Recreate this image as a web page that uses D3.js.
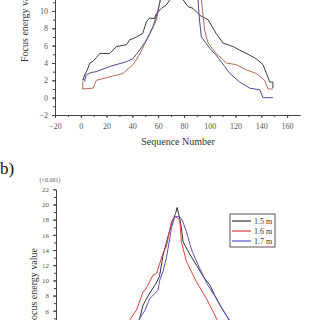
<!DOCTYPE html>
<html>
<head>
<meta charset="utf-8">
<script src="https://cdn.jsdelivr.net/npm/d3@7"></script>
<style>
  body { margin: 0; background: #fff; }
  svg { display: block; font-family: "Liberation Serif", "DejaVu Serif", serif; }
</style>
</head>
<body>
<script>
// top chart (a): three curves, x = sequence number
const topBlack = [
  [1.5, 2.0], [3, 2.6], [5, 3.2], [7, 4.0], [9.5, 4.2], [12, 4.6], [14.7, 5.1], [22.5, 5.1],
  [27.7, 5.9], [35.4, 6.1], [38, 6.7], [40.5, 6.8], [43, 7.0], [48, 7.4], [51, 8.8], [53.5, 9.2],
  [57, 9.1], [58.7, 9.7], [62.5, 10.3], [66.4, 10.7], [69, 11.3], [72, 13], [75, 14.5],
  [77, 13], [79.3, 11.3], [83.2, 10.5], [87, 10.3], [91, 9.7], [92.2, 9.5], [98.7, 9.0],
  [105, 7.4], [110.3, 6.3], [118, 5.9], [123, 5.5], [131, 4.9], [136, 4.5], [141.3, 3.8],
  [144, 2.8], [146.5, 1.8], [149, 1.8], [149, 1.1]
]
const topRed = [
  [1.5, 1.9], [1.5, 1.0], [9.5, 1.1], [12, 2.0], [22.5, 2.4], [32.8, 2.8], [40.5, 3.8],
  [43, 4.35], [47, 5.4], [51, 6.65], [55, 7.8], [58.7, 9.0], [61, 10.8], [64, 13], [70, 16],
  [75, 17], [82, 16], [90, 13.5], [93.5, 11.3], [96, 7.8], [98.7, 6.3], [105, 5.1],
  [113, 4.0], [120.7, 3.8], [128.4, 3.2], [136, 2.8], [142.6, 2.0], [145.2, 1.0], [149, 1.0]
]
const topBlue = [
  [2, 2.2], [3, 1.9], [4, 2.6], [8, 2.9], [12, 3.0], [22.5, 3.6], [35.4, 4.15], [40.5, 4.5],
  [45.7, 5.5], [51, 6.65], [53.5, 7.4], [56, 8.2], [58.7, 9.4], [61, 10.8], [64, 13],
  [70, 16], [75, 17], [82, 16], [89, 13], [91, 11.3], [91.7, 9.5], [93.5, 7.0], [100, 5.7],
  [105, 4.9], [111.6, 3.6], [115.5, 2.8], [123.3, 1.8], [131, 1.1], [138.8, 0.9],
  [141.3, 0.0], [149, 0.0]
]

// bottom chart (b): focus energy (x0.001) for three distances
const botNames = ['1.5 m', '1.6 m', '1.7 m']
const botColors = ['#333333', '#e04040', '#5555cc']
const bot15 = [
  [42, 3], [45.7, 5.0], [48.3, 6.75], [53, 8.2], [58, 9.5], [61, 10.5], [63.8, 13.3],
  [68, 16], [71, 17.8], [73.5, 18.8], [74.7, 19.6], [76, 18.7], [78, 17], [79.3, 15.1],
  [84, 13.6], [89.7, 12.0], [95, 10.5], [100, 9.4], [104, 8], [107.8, 6.75], [112.9, 5.4],
  [117, 4.2], [120, 3.2]
]
const bot16 = [
  [33, 3], [38, 4.8], [43.2, 6.1], [48.3, 8.5], [50, 8.7], [56, 10.7], [58.7, 10.9],
  [63.8, 13.6], [66.4, 14.5], [70.3, 17.7], [72.9, 18.4], [75, 18.2], [76.7, 18],
  [78, 15.1], [81.9, 12.5], [89.7, 9.8], [97.4, 7.6], [102.6, 5.9], [105.2, 5.0], [108, 3.8]
]
const bot17 = [
  [42, 3], [45.7, 5.0], [49.6, 6], [53.5, 7.6], [59.9, 8.7], [61.2, 10], [63.8, 11.2],
  [66.4, 13], [69, 15.5], [70.3, 16.9], [72.9, 18.4], [76.7, 18.4], [79, 17.8], [81.9, 16.4],
  [86, 14], [92.2, 11.6], [98, 9.5], [105.2, 7.6], [111.6, 5.7], [116, 4.6], [120, 3.5]
]

const xTicks = [-20, 0, 20, 40, 60, 80, 100, 120, 140, 160]
const yTopTicks = [-2, 0, 2, 4, 6, 8, 10, 12]
const yBotTicks = [0, 2, 4, 6, 8, 10, 12, 14, 16, 18, 20, 22]

const svg = d3.select('body').append('svg')
  .attr('width', 320)
  .attr('height', 320)

const x = d3.scaleLinear().domain([-20, 170]).range([55, 300])
const yTop = d3.scaleLinear().domain([-2, 14]).range([115, -23.7])
const yBot = d3.scaleLinear().domain([0, 22]).range([356.3, 189.3])

const line = function (yScale) {
  return d3.line().x(d => x(d[0])).y(d => yScale(d[1]))
}

const styleAxis = function (g) {
  g.selectAll('path, line').attr('stroke', '#444').attr('stroke-width', 1)
  g.selectAll('text').attr('fill', '#555').attr('font-size', '8px')
    .attr('font-family', '"Liberation Serif", serif')
}

// ---- top chart ----
const gTop = svg.append('g')

// minor ticks
gTop.append('g').attr('transform', 'translate(0,115)')
  .call(d3.axisBottom(x).tickValues(d3.range(-20, 170, 10)).tickSize(2).tickFormat('').tickSizeOuter(0))
  .call(styleAxis)
gTop.append('g').attr('transform', 'translate(0,115)')
  .call(d3.axisBottom(x).tickValues(xTicks).tickSize(3).tickSizeOuter(0).tickPadding(5))
  .call(styleAxis)
gTop.append('g').attr('transform', 'translate(55,0)')
  .call(d3.axisLeft(yTop).tickValues(d3.range(-2, 14, 1)).tickSize(2).tickFormat('').tickSizeOuter(0))
  .call(styleAxis)
gTop.append('g').attr('transform', 'translate(55,0)')
  .call(d3.axisLeft(yTop).tickValues(yTopTicks).tickSize(3).tickSizeOuter(0).tickPadding(4))
  .call(styleAxis)

gTop.append('text')
  .attr('x', 178).attr('y', 145)
  .attr('text-anchor', 'middle')
  .attr('font-size', '10px').attr('fill', '#333')
  .text('Sequence Number')

gTop.append('text')
  .attr('transform', 'translate(28,62) rotate(-90)')
  .attr('font-size', '10px').attr('fill', '#333')
  .text('Focus energy value')

const topSeries = [[topBlack, '#3a3a3a'], [topRed, '#b86a5a'], [topBlue, '#4a4a9a']]
topSeries.forEach(function (s) {
  gTop.append('path')
    .attr('d', line(yTop)(s[0]))
    .attr('fill', 'none')
    .attr('stroke', s[1])
    .attr('stroke-width', 1)
})

// ---- bottom chart ----
const gBot = svg.append('g')

svg.append('text')
  .attr('x', 0).attr('y', 174)
  .attr('font-size', '17px').attr('fill', '#111')
  .text('b)')

gBot.append('g').attr('transform', 'translate(56,0)')
  .call(d3.axisLeft(yBot).tickValues(d3.range(0, 23, 1)).tickSize(2).tickFormat('').tickSizeOuter(0))
  .call(styleAxis)
gBot.append('g').attr('transform', 'translate(56,0)')
  .call(d3.axisLeft(yBot).tickValues(yBotTicks).tickSize(3).tickSizeOuter(0).tickPadding(4))
  .call(styleAxis)
gBot.selectAll('text').attr('font-size', '7px')

gBot.append('text')
  .attr('x', 50).attr('y', 182)
  .attr('text-anchor', 'middle')
  .attr('font-size', '6px').attr('fill', '#555')
  .text('(×0.001)')

gBot.append('text')
  .attr('transform', 'translate(37,248) rotate(-90)')
  .attr('text-anchor', 'end')
  .attr('font-size', '10px').attr('fill', '#333')
  .text('Focus energy value')

const botSeries = [bot15, bot16, bot17]
botSeries.forEach(function (s, i) {
  gBot.append('path')
    .attr('d', line(yBot)(s))
    .attr('fill', 'none')
    .attr('stroke', botColors[i])
    .attr('stroke-width', 1)
})

// legend
const legend = gBot.append('g')
legend.append('rect')
  .attr('x', 230).attr('y', 214)
  .attr('width', 45).attr('height', 33)
  .attr('fill', '#fff').attr('stroke', '#555').attr('stroke-width', 1)
botNames.forEach(function (name, i) {
  const ly = 221 + i * 10
  legend.append('line')
    .attr('x1', 232).attr('x2', 251)
    .attr('y1', ly).attr('y2', ly)
    .attr('stroke', botColors[i]).attr('stroke-width', 1.2)
  legend.append('text')
    .attr('x', 254).attr('y', ly + 3)
    .attr('font-size', '8px').attr('fill', '#333')
    .text(name)
})
</script>
</body>
</html>
